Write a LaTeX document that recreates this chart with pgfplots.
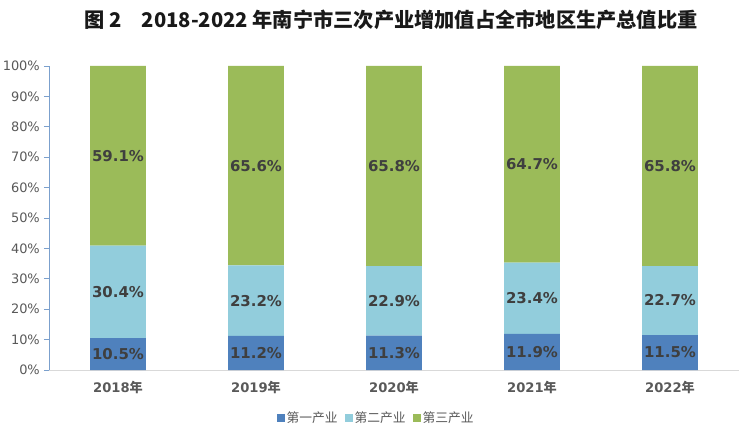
\documentclass[border=0pt]{standalone}
\usepackage{pgfplots}
\pgfplotsset{compat=1.18}
\usepackage{pgfplotstable}
\usepackage{fontspec}
\setmainfont{DejaVu Sans}
\newfontfamily\cjk{Noto Sans CJK SC}
\definecolor{c1}{HTML}{4F81BD}
\definecolor{c2}{HTML}{92CDDC}
\definecolor{c3}{HTML}{9BBB59}
\definecolor{tk}{HTML}{595959}
\definecolor{lbl}{HTML}{3F3F3F}
\definecolor{yax}{HTML}{7BA0CD}
\definecolor{xax}{HTML}{D9D9D9}
\pgfplotstableread{
x a b c
0 10.5 30.4 59.1
1 11.2 23.2 65.6
2 11.3 22.9 65.8
3 11.9 23.4 64.7
4 11.5 22.7 65.8
}\data
\begin{document}
\begin{tikzpicture}
\path[use as bounding box] (-49bp,-67bp) rectangle (690bp,370bp);
\begin{axis}[
  scale only axis, width=690bp, height=304bp,
  xmin=-0.5, xmax=4.5, ymin=0, ymax=100,
  ybar stacked, bar width=0.405,
  axis x line*=bottom, axis y line*=left,
  x axis line style={draw=xax, line width=0.8pt, -},
  y axis line style={draw=yax, line width=0.8pt, -},
  xtick=data, xticklabels={2018{\cjk 年},2019{\cjk 年},2020{\cjk 年},2021{\cjk 年},2022{\cjk 年}},
  xtick style={draw=none},
  xticklabel style={font=\bfseries\fontsize{13.2}{15}\selectfont, text=tk, yshift=-3bp},
  ytick={0,10,...,100},
  yticklabels={0\%,10\%,20\%,30\%,40\%,50\%,60\%,70\%,80\%,90\%,100\%},
  tick align=outside, major tick length=5bp,
  ytick style={draw=yax, line width=0.8pt},
  yticklabel style={font=\fontsize{13}{15}\selectfont, text=tk, inner sep=0pt, xshift=-4bp},
  legend style={at={(0.474,-0.158)}, anchor=center, legend columns=3, draw=none,
    font=\cjk\fontsize{12.8}{15}\selectfont, text=tk, inner sep=0pt,
    /tikz/every even column/.append style={column sep=5bp}},
  legend image code/.code={\fill[#1] (0bp,-4bp) rectangle (8bp,4bp);},
]
\addplot[fill=c1, draw=none] table[x=x, y=a] {\data};
\addlegendentry{第一产业}
\addplot[fill=c2, draw=none] table[x=x, y=b] {\data};
\addlegendentry{第二产业}
\addplot[fill=c3, draw=none] table[x=x, y=c] {\data};
\addlegendentry{第三产业}
\end{axis}
\begin{axis}[
  scale only axis, width=690bp, height=304bp,
  xmin=-0.5, xmax=4.5, ymin=0, ymax=100, hide axis,
  nodes near coords={\pgfplotspointmeta\%},
  point meta=explicit symbolic,
  every node near coord/.style={anchor=center, font=\bfseries\fontsize{15}{17}\selectfont, text=lbl},
]
\addplot[only marks, mark=none] table[x=x, y expr=\thisrow{a}/2, meta=a] {\data};
\addplot[only marks, mark=none] table[x=x, y expr=\thisrow{a}+\thisrow{b}/2, meta=b] {\data};
\addplot[only marks, mark=none] table[x=x, y expr=\thisrow{a}+\thisrow{b}+\thisrow{c}/2, meta=c] {\data};
\end{axis}
\node[font=\cjk\bfseries\fontsize{20.3}{24}\selectfont, text=black!90] at (342bp,350bp) {图 2\quad 2018-2022 年南宁市三次产业增加值占全市地区生产总值比重};
\end{tikzpicture}
\end{document}
